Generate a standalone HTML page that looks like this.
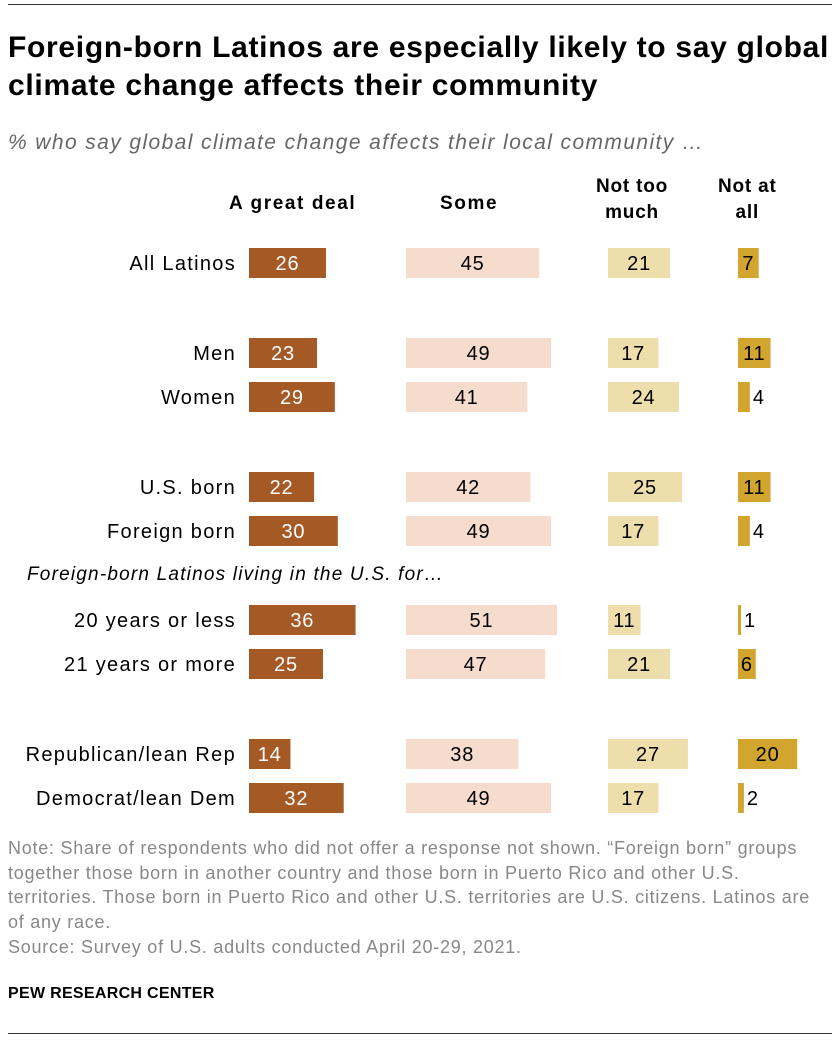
<!DOCTYPE html>
<html><head><meta charset="utf-8">
<style>
body{margin:0;background:#fff;font-family:"Liberation Sans",sans-serif;}
#wrap{position:relative;width:840px;height:1040px;overflow:hidden;}
.t{position:absolute;white-space:nowrap;}
</style></head><body>
<div id="wrap">
<div class="t" style="left:8px;top:4px;width:824px;height:1px;background:#333"></div>
<div class="t" style="left:8px;top:29px;font-size:30px;font-weight:bold;line-height:38px;color:#000;letter-spacing:0.7px">Foreign-born Latinos are especially likely to say global<br>climate change affects their community</div>
<div class="t" style="left:8px;top:131px;font-size:21px;font-style:italic;color:#666;letter-spacing:1.4px">% who say global climate change affects their local community …</div>
<div class="t" style="left:229px;top:193px;font-size:19px;font-weight:bold;letter-spacing:1.6px">A great deal</div>
<div class="t" style="left:440px;top:193px;font-size:19px;font-weight:bold;letter-spacing:1.6px">Some</div>
<div class="t" style="left:596px;top:174px;font-size:19px;font-weight:bold;text-align:center;line-height:26px;letter-spacing:0.8px">Not too<br>much</div>
<div class="t" style="left:718px;top:174px;font-size:19px;font-weight:bold;text-align:center;line-height:26px;letter-spacing:0.8px">Not at<br>all</div>
<div class="t" style="left:27px;top:564px;font-size:19px;font-style:italic;letter-spacing:1.2px">Foreign-born Latinos living in the U.S. for…</div>
<svg id="chart" width="840" height="1040" style="position:absolute;left:0;top:0"></svg>
<div class="t" style="left:8px;top:836px;font-size:18px;color:#888;line-height:24.7px;letter-spacing:0.75px">Note: Share of respondents who did not offer a response not shown. “Foreign born” groups<br>together those born in another country and those born in Puerto Rico and other U.S.<br>territories. Those born in Puerto Rico and other U.S. territories are U.S. citizens. Latinos are<br>of any race.<br>Source: Survey of U.S. adults conducted April 20-29, 2021.</div>
<div class="t" style="left:8px;top:985px;font-size:16px;font-weight:bold;letter-spacing:0.3px">PEW RESEARCH CENTER</div>
<div class="t" style="left:8px;top:1033px;width:824px;height:1px;background:#333"></div>
</div>
<script>
const categories=["All Latinos","Men","Women","U.S. born","Foreign born","20 years or less","21 years or more","Republican/lean Rep","Democrat/lean Dem"];
const greatDeal=[26,23,29,22,30,36,25,14,32];
const some=[45,49,41,42,49,51,47,38,49];
const notTooMuch=[21,17,24,25,17,11,21,27,17];
const notAtAll=[7,11,4,11,4,1,6,20,2];
const rowY=[263,353,397,487,531,620,664,754,798];
const series=[
 {name:"great-deal",vals:greatDeal,x0:249,color:"#a55a26",text:"#fff"},
 {name:"some",vals:some,x0:406,color:"#f5dccd",text:"#000"},
 {name:"not-too-much",vals:notTooMuch,x0:608,color:"#eddeac",text:"#000"},
 {name:"not-at-all",vals:notAtAll,x0:738,color:"#d2a52f",text:"#000"}
];
const scale=v=>v*2.96;
const svg=document.getElementById('chart');
const NS="http://www.w3.org/2000/svg";
categories.forEach((c,i)=>{
 const y=rowY[i];
 const t=document.createElementNS(NS,'text');
 
 
 t.setAttribute('x',236);t.setAttribute('y',y+7);t.setAttribute('text-anchor','end');
 t.setAttribute('font-size','20');t.setAttribute('letter-spacing','1.3');t.setAttribute('font-family','Liberation Sans, sans-serif');
 t.textContent=c;svg.appendChild(t);
 series.forEach(s=>{
  const v=s.vals[i],w=scale(v);
  const r=document.createElementNS(NS,'rect');
  
  
  r.setAttribute('x',s.x0);r.setAttribute('y',y-15);r.setAttribute('width',w);r.setAttribute('height',30);
  r.setAttribute('fill',s.color);svg.appendChild(r);
  const l=document.createElementNS(NS,'text');
  
  
  const inside=w>=15;
  l.setAttribute('x',inside?s.x0+w/2:s.x0+w+3);
  l.setAttribute('text-anchor',inside?'middle':'start');
  l.setAttribute('y',y+7);l.setAttribute('font-size','20');l.setAttribute('letter-spacing','0.8');
  l.setAttribute('font-family','Liberation Sans, sans-serif');
  l.setAttribute('fill',inside?s.text:'#000');
  l.textContent=v;svg.appendChild(l);
 });
});
</script>
</body></html>
